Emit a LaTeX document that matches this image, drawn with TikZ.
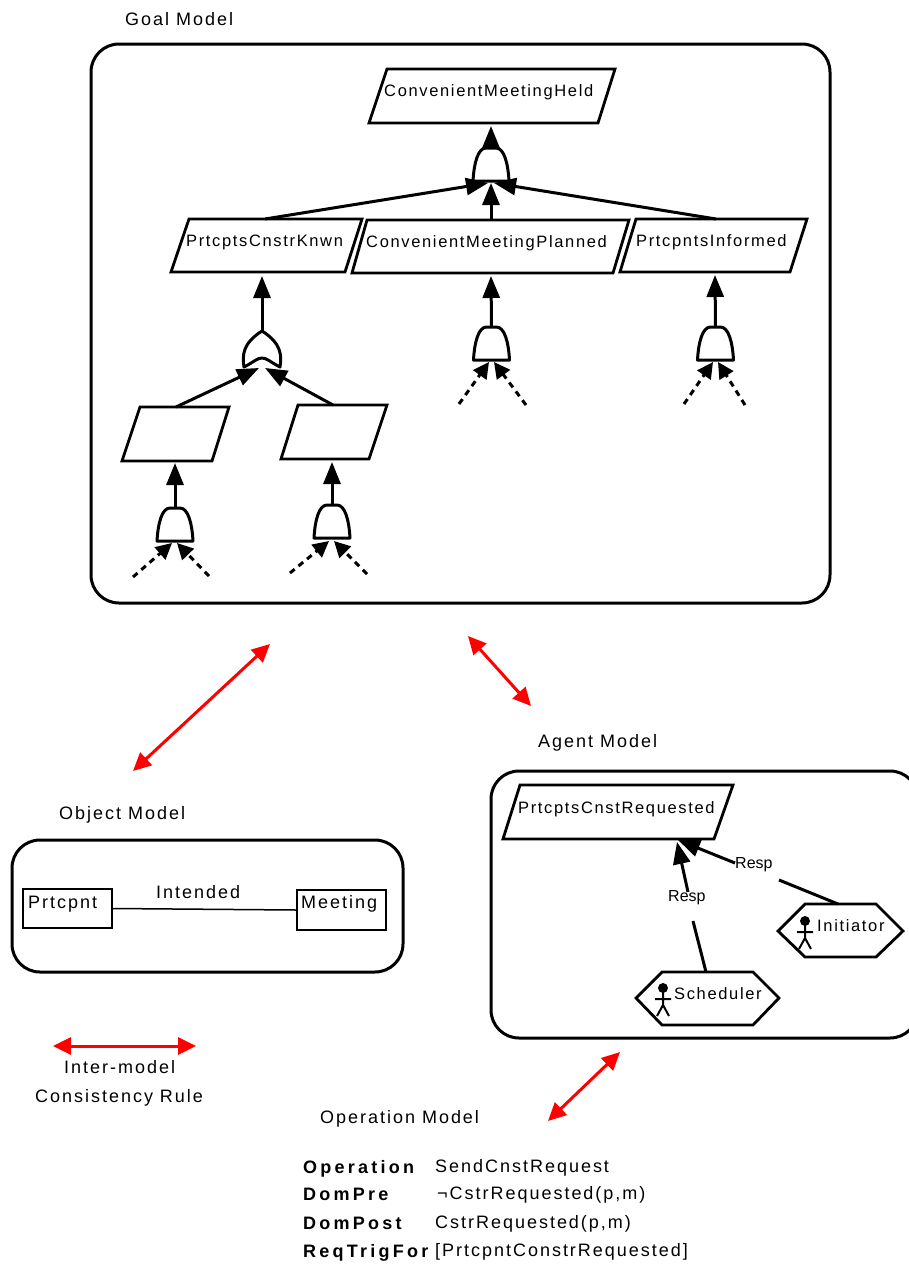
\documentclass[tikz,border=0pt]{standalone}
\usepackage{fontspec}
\setmainfont{Liberation Sans}
\newfontfamily\lsa[LetterSpace=10]{Liberation Sans}
\newfontfamily\lsb[LetterSpace=11]{Liberation Sans}
\newfontfamily\lsc[LetterSpace=18,BoldFont={Liberation Sans Bold}]{Liberation Sans}
\usetikzlibrary{arrows.meta}
\tikzset{
  frame/.style={draw=black,line width=3pt,rounded corners=28pt},
  shp/.style={draw=black,line width=2.8pt,line join=miter,fill=white},
  gatep/.style={draw=black,line width=3pt,fill=white,line join=round},
  arr/.style={draw=black,line width=3pt,-{Triangle[length=22pt,width=17pt]}},
  darr/.style={draw=black,line width=3pt,dash pattern=on 6pt off 5pt,-{Triangle[length=16pt,width=16pt]}},
  redarr/.style={draw=red,line width=3pt,{Triangle[length=18pt,width=17pt]}-{Triangle[length=18pt,width=17pt]}},
  lbl/.style={anchor=base west,inner sep=0pt,text=black},
  goaltxt/.style={lbl,font=\fontsize{16.5}{18}\lsa},
  titletxt/.style={lbl,font=\fontsize{18}{20}\lsb},
  resptxt/.style={lbl,font=\fontsize{16}{18}\selectfont},
  boldtxt/.style={lbl,font=\fontsize{18}{20}\lsc\bfseries},
  andgate/.pic={
    \path[gatep] (-18,0) .. controls (-17,-18) and (-13,-33) .. (-5,-33) -- (5,-33) .. controls (13,-33) and (17,-18) .. (18,0) -- cycle;
    \coordinate (-top) at (0,-33);
  },
  orgate/.pic={
    \path[gatep] (-18,0) .. controls (-20,-12) and (-19,-24) .. (0,-36) .. controls (19,-24) and (20,-12) .. (18,0) .. controls (8,-5) and (5,-9) .. (0,-9) .. controls (-5,-9) and (-8,-5) .. (-18,0) -- cycle;
    \coordinate (-top) at (0,-36);
  },
  stick/.pic={
    \fill[black] (0,0) circle (5pt);
    \draw[black,line width=2pt] (0,0) -- (0,17) (-8,11) -- (8,11) (-6,28) -- (0,17) -- (6,28);
  },
}
\begin{document}
\begin{tikzpicture}[x=1pt,y=-1pt]
\useasboundingbox (0,0) rectangle (909,1264);
\clip (0,0) rectangle (909,1264);
% frames
\draw[frame] (91,44) rectangle (830,603);
\draw[frame] (491,771) rectangle (918,1038);
\draw[frame] (12,840) rectangle (403,972);
% goal shapes
\draw[shp] (387,69) -- (615,69) -- (598,123) -- (369,123) -- cycle;
\draw[shp] (367,220) -- (629,220) -- (613,273) -- (352,273) -- cycle;
\draw[shp] (189,219) -- (362,219) -- (345,272) -- (171,272) -- cycle;
\draw[shp] (636,219) -- (807,219) -- (790,272) -- (620,272) -- cycle;
\draw[shp] (140,407) -- (229,407) -- (212,461) -- (122,461) -- cycle;
\draw[shp] (298,405) -- (387,405) -- (369,459) -- (281,459) -- cycle;
\draw[shp] (520,785) -- (733,785) -- (714,839) -- (503,839) -- cycle;
% attachment points
\coordinate (heldB) at (491,126);
\coordinate (plannedT) at (491,220);
\coordinate (plannedB) at (491,276);
\coordinate (knwnT) at (265,219);
\coordinate (knwnB) at (262,276);
\coordinate (informedT) at (716,219);
\coordinate (informedB) at (715,275);
\coordinate (aT) at (176,407);
\coordinate (aB) at (175,463);
\coordinate (bT) at (333,405);
\coordinate (bB) at (332,462);
% gates
\pic (g0) at (491,181) {andgate};
\pic (g1) at (262,367) {orgate};
\pic (g2) at (491.5,360) {andgate};
\pic (g3) at (715.5,360) {andgate};
\pic (g4) at (175,541) {andgate};
\pic (g5) at (332,538) {andgate};
\coordinate (g0L) at (488,183); \coordinate (g0M) at (491,183); \coordinate (g0R) at (494,183);
\coordinate (g1L) at (259,368); \coordinate (g1R) at (265,368);
\coordinate (g2L) at (489,362); \coordinate (g2R) at (494,362);
\coordinate (g3L) at (713,362); \coordinate (g3R) at (718,362);
\coordinate (g4L) at (172,543); \coordinate (g4R) at (177,543);
\coordinate (g5L) at (329,541); \coordinate (g5R) at (334,541);
% goal connectors
\draw[arr] (g0-top) -- (heldB);
\draw[arr] (knwnT) -- (g0L);
\draw[arr] (plannedT) -- (g0M);
\draw[arr] (informedT) -- (g0R);
\draw[arr] (g1-top) -- (knwnB);
\draw[arr] (g2-top) -- (plannedB);
\draw[arr] (g3-top) -- (informedB);
\draw[arr] (aT) -- (g1L);
\draw[arr] (bT) -- (g1R);
\draw[arr] (g4-top) -- (aB);
\draw[arr] (g5-top) -- (bB);
\coordinate (d2a) at (459,404); \coordinate (d2b) at (526,405);
\coordinate (d3a) at (684,404); \coordinate (d3b) at (745,405);
\coordinate (d4a) at (133,577); \coordinate (d4b) at (209,576);
\coordinate (d5a) at (290,573); \coordinate (d5b) at (367,574);
\foreach \s/\e in {d2a/g2L,d2b/g2R,d3a/g3L,d3b/g3R,d4a/g4L,d4b/g4R,d5a/g5L,d5b/g5R}
  \draw[darr] (\s) -- (\e);
% goal text
\node[goaltxt] (tHeld) at (384,96) {ConvenientMeetingHeld};
\node[goaltxt] (tPlanned) at (366,247) {ConvenientMeetingPlanned};
\node[goaltxt] (tKnwn) at (186,246) {PrtcptsCnstrKnwn};
\node[goaltxt] (tInformed) at (636,246) {PrtcpntsInformed};
\node[goaltxt] (tReq) at (518,813) {PrtcptsCnstRequested};
% titles
\node[titletxt] (tGoal) at (125,25) {Goal Model};
\node[titletxt] (tAgent) at (538,747) {Agent Model};
\node[titletxt] (tObject) at (59,819) {Object Model};
\node[titletxt] (tOp) at (320,1123) {Operation Model};
% object model
\node[draw=black,line width=1.5pt,minimum width=89pt,minimum height=39pt,inner sep=0pt] (prt) at (67.5,908.5) {};
\node[draw=black,line width=1.5pt,minimum width=89pt,minimum height=40pt,inner sep=0pt] (mtg) at (341.5,910) {};
\draw[black,line width=1.5pt] (prt.east) -- (mtg.west);
\node[titletxt] (tPrt) at (28,908) {Prtcpnt};
\node[titletxt] (tMtg) at (301,908) {Meeting};
\node[titletxt] (tInt) at (156,898) {Intended};
% agents
\draw[shp] (778,931) -- (805,904) -- (876,904) -- (903,931) -- (876,957) -- (805,957) -- cycle;
\draw[shp] (636,998) -- (662,972) -- (753,972) -- (779,998) -- (753,1025) -- (662,1025) -- cycle;
\pic at (805,921) {stick};
\pic at (663,988) {stick};
\node[goaltxt] (tInit) at (817,931) {Initiator};
\node[goaltxt] (tSch) at (674,999) {Scheduler};
\coordinate (schT) at (706,972);
\coordinate (schGap) at (693,921);
\coordinate (schRe) at (688,892);
\coordinate (respTip) at (677,842);
\coordinate (iniT) at (838,904);
\coordinate (iniGap) at (779,880);
\coordinate (iniRe) at (735,863);
\coordinate (respTip2) at (678,840);
\draw[black,line width=3pt] (schT) -- (schGap);
\draw[arr] (schRe) -- (respTip);
\draw[black,line width=3pt] (iniT) -- (iniGap);
\draw[arr] (iniRe) -- (respTip2);
\node[resptxt] (tResp1) at (668,901) {Resp};
\node[resptxt] (tResp2) at (735,868) {Resp};
% red arrows
\coordinate (r1a) at (133,771); \coordinate (r1b) at (270,644);
\coordinate (r2a) at (468,636); \coordinate (r2b) at (531,706);
\coordinate (r3a) at (53,1046); \coordinate (r3b) at (196,1046);
\coordinate (r4a) at (548,1121); \coordinate (r4b) at (620,1052);
\draw[redarr] (r1a) -- (r1b);
\draw[redarr] (r2a) -- (r2b);
\draw[redarr] (r3a) -- (r3b);
\draw[redarr] (r4a) -- (r4b);
\node[titletxt] (tInter) at (64,1073) {Inter-model};
\node[titletxt] (tCons) at (35,1102) {Consistency Rule};
% operation
\node[boldtxt] (o1) at (303,1173) {Operation};
\node[boldtxt] (o2) at (303,1200) {DomPre};
\node[boldtxt] (o3) at (303,1229) {DomPost};
\node[boldtxt] (o4) at (303,1257) {ReqTrigFor};
\node[titletxt] (v1) at (435,1172) {SendCnstRequest};
\node[titletxt] (v2) at (437,1199) {¬CstrRequested(p,m)};
\node[titletxt] (v3) at (435,1228) {CstrRequested(p,m)};
\node[titletxt] (v4) at (435,1256) {[PrtcpntConstrRequested]};
\end{tikzpicture}
\end{document}
